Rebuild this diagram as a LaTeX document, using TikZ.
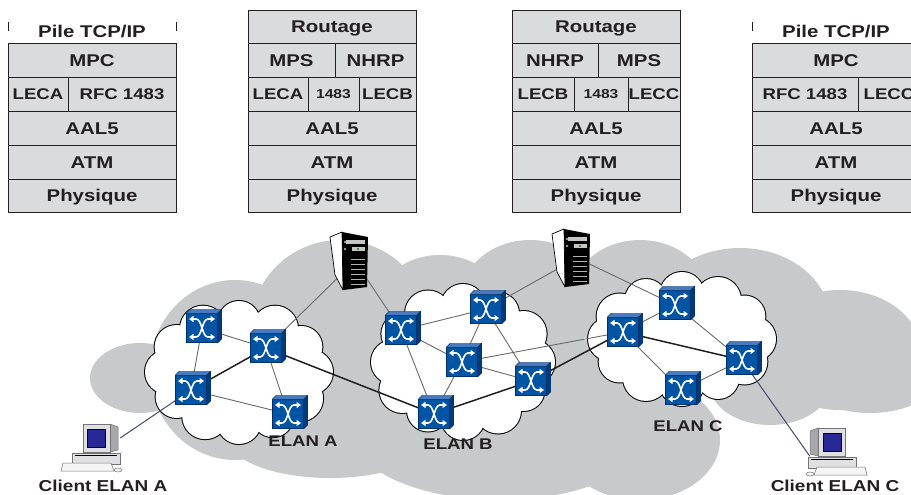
\documentclass[tikz,border=0pt]{standalone}
\usepackage{fontspec}
\setmainfont{Liberation Sans}[FakeStretch=1.2]
\usetikzlibrary{calc,arrows.meta}

\definecolor{stackgray}{RGB}{218,219,221}
\definecolor{cloudgray}{RGB}{200,201,203}
\definecolor{swblue}{RGB}{0,84,164}
\definecolor{swtop}{RGB}{72,122,192}
\definecolor{swside}{RGB}{0,58,122}
\definecolor{swedge}{RGB}{0,48,105}
\definecolor{linkgray}{RGB}{105,105,108}
\definecolor{inkc}{RGB}{35,31,32}
\definecolor{screenblue}{RGB}{40,40,150}
\definecolor{clientline}{RGB}{70,74,112}
\definecolor{pclight}{RGB}{224,224,226}
\definecolor{pcside}{RGB}{168,168,172}
\definecolor{pcedge}{RGB}{115,115,120}

\pgfdeclarelayer{clouds}
\pgfdeclarelayer{links}
\pgfsetlayers{clouds,links,main}

\tikzset{
  stkline/.style={draw=inkc, line width=0.8pt},
  stkcell/.style={stkline, fill=stackgray, rectangle, inner sep=0pt,
    font=\bfseries\fontsize{17}{17}\selectfont, text=inkc,
    text height=12.2pt, text depth=0pt},
  midtxt/.style={font=\bfseries\fontsize{15.5}{15.5}\selectfont, text height=11.2pt},
  numtxt/.style={font=\bfseries\fontsize{13}{13}\selectfont, text height=9.4pt},
  lab/.style={inner sep=0pt, font=\bfseries\fontsize{17}{17}\selectfont,
    text=inkc, text height=12.2pt, text depth=0pt},
  elanlab/.style={lab, font=\bfseries\fontsize{15.5}{15.5}\selectfont, text height=11.2pt},
  clientlab/.style={lab, font=\bfseries\fontsize{15.8}{15.8}\selectfont, text height=11.3pt},
  lk/.style={draw=linkgray, line width=0.9pt},
  lkb/.style={draw=inkc, line width=1.5pt},
  clientlk/.style={draw=clientline, line width=1pt},
  hidden/.style={rectangle, inner sep=0pt},
  atmsw/.style={rectangle, inner sep=0pt, minimum width=31pt, minimum height=29pt,
    fill=swblue, draw=swedge, line width=0.5pt,
    path picture={
      \begin{scope}[shift={(path picture bounding box.center)}, white,
          line width=1.6pt, >={Triangle[length=4.5pt,width=6pt]}]
        \draw[<->] (-13,-9) -- (-6,-9) .. controls (0,-9) and (0,9) .. (6,9) -- (13,9);
        \draw[<->] (13,-9) -- (6,-9) .. controls (0,-9) and (0,9) .. (-6,9) -- (-13,9);
      \end{scope}}},
  server/.pic={
    \filldraw[fill=white, draw=black, line width=0.7pt, line join=round]
      (-25,-24) -- (-13,-29) -- (-12,29) -- (-20,14) -- cycle;
    \fill[black] (-13,-29) -- (13,-24) -- (12,26) -- (-12,29) -- cycle;
    \fill[gray!45] (-9,-21) rectangle (10,-17);
    \fill[gray!45] (-3,-14) rectangle (10,-10);
    \fill[green!55!black] (3,-12) circle[radius=1.1pt];
    \draw[gray!60, line width=0.6pt] (-11,-20) -- (-9,-18) (-11,-18) -- (-9,-20);
    \draw[gray!60, line width=0.6pt] (-11,-13) -- (-9,-11) (-11,-11) -- (-9,-13);
    \foreach \yy in {-2,3,8,13,18,23}
      \draw[gray!60, line width=0.9pt] (-4,\yy) -- (10,\yy);
  },
  pc/.pic={
    % desktop case
    \filldraw[fill=pclight, draw=pcedge, line width=0.5pt] (-11,29) rectangle (37,40);
    \draw[black, line width=1.2pt] (-8,31.5) -- (34,31.5);
    % keyboard and mouse
    \filldraw[fill=white!92!gray, draw=pcedge, line width=0.5pt]
      (-20,39) -- (28,39) -- (31,47) -- (-22,47) -- cycle;
    \filldraw[fill=white!90!gray, draw=pcedge, line width=0.5pt] (35,46) ellipse[x radius=4pt, y radius=2pt];
    % monitor
    \filldraw[fill=pcside, draw=pcedge, line width=0.5pt] (27,0) -- (35,3) -- (35,26) -- (27,28) -- cycle;
    \filldraw[fill=pclight, draw=pcedge, line width=0.5pt] (0,0) rectangle (27,28);
    \filldraw[fill=screenblue, draw=black, line width=0.6pt] (4,5) rectangle (22,23);
  }
}

% one cell of a protocol stack: [options]{name}{x1}{y1}{x2}{y2}{text}
\newcommand\stackcell[7][]{%
  \node[stkcell, minimum width={(#5-#3)*1pt}, minimum height={(#6-#4)*1pt}, #1]
    (#2) at ({(#3+#5)/2},{(#4+#6)/2}) {#7};}

% scalloped LAN cloud: centre x, centre y, x radius, y radius, angle/bump list
\newcommand\elancloud[5]{%
  \foreach \ang/\rr in {#5}
    \draw[black, line width=2pt] ($(#1,#2)+(\ang:#3 and #4)$) circle[radius=\rr pt];
  \foreach \ang/\rr in {#5}
    \fill[white] ($(#1,#2)+(\ang:#3 and #4)$) circle[radius=\rr pt];
  \fill[white] (#1,#2) ellipse[x radius=#3 pt, y radius=#4 pt];}

\begin{document}
\begin{tikzpicture}[x=1pt, y=-1pt]
\useasboundingbox (0,0) rectangle (911,495);
\clip (0,0) rectangle (911,495);

% ---------- protocol stacks ----------
% client A
\draw[stkline] (8,22) -- (8,31) (176,22) -- (176,31);
\node[lab] (hd1) at (92,31.5) {Pile TCP/IP};
\stackcell{s1mpc}{8}{43}{176}{77}{MPC}
\stackcell[midtxt]{s1leca}{8}{77}{68}{111}{LECA}
\stackcell[midtxt]{s1rfc}{68}{77}{176}{111}{RFC 1483}
\stackcell{s1aal}{8}{111}{176}{145}{AAL5}
\stackcell{s1atm}{8}{145}{176}{179}{ATM}
\stackcell{s1phy}{8}{179}{176}{212}{Physique}

% router 1
\stackcell{s2rt}{248}{10}{416}{43}{Routage}
\stackcell{s2mps}{248}{43}{335}{77}{MPS}
\stackcell{s2nhrp}{335}{43}{416}{77}{NHRP}
\stackcell[midtxt]{s2leca}{248}{77}{308}{111}{LECA}
\stackcell[numtxt]{s2num}{308}{77}{359}{111}{1483}
\stackcell[midtxt]{s2lecb}{359}{77}{416}{111}{LECB}
\stackcell{s2aal}{248}{111}{416}{145}{AAL5}
\stackcell{s2atm}{248}{145}{416}{179}{ATM}
\stackcell{s2phy}{248}{179}{416}{212}{Physique}

% router 2
\stackcell{s3rt}{512}{10}{680}{43}{Routage}
\stackcell{s3nhrp}{512}{43}{598}{77}{NHRP}
\stackcell{s3mps}{598}{43}{680}{77}{MPS}
\stackcell[midtxt]{s3lecb}{512}{77}{574}{111}{LECB}
\stackcell[numtxt]{s3num}{574}{77}{628}{111}{1483}
\stackcell[midtxt]{s3lecc}{628}{77}{680}{111}{LECC}
\stackcell{s3aal}{512}{111}{680}{145}{AAL5}
\stackcell{s3atm}{512}{145}{680}{179}{ATM}
\stackcell{s3phy}{512}{179}{680}{212}{Physique}

% client C
\draw[stkline] (752,22) -- (752,31) (920,22) -- (920,31);
\node[lab] (hd4) at (836,31.5) {Pile TCP/IP};
\stackcell{s4mpc}{752}{43}{920}{77}{MPC}
\stackcell[midtxt]{s4rfc}{752}{77}{858}{111}{RFC 1483}
\stackcell[midtxt]{s4lecc}{858}{77}{920}{111}{LECC}
\stackcell{s4aal}{752}{111}{920}{145}{AAL5}
\stackcell{s4atm}{752}{145}{920}{179}{ATM}
\stackcell{s4phy}{752}{179}{920}{212}{Physique}

% ---------- ATM network background ----------
\begin{pgfonlayer}{clouds}
  \foreach \cx/\cy/\rx/\ry in {140/378/50/35, 235/370/85/90, 340/330/90/90,
      330/440/100/38, 500/430/150/70, 440/300/60/45, 530/300/70/60,
      640/300/70/60, 740/320/90/72, 840/350/80/60, 870/385/60/28,
      640/440/80/60, 770/385/60/40, 580/370/40/30}
    \fill[cloudgray] (\cx,\cy) ellipse[x radius=\rx pt, y radius=\ry pt];
  \elancloud{239}{372}{72}{50}{0/22, 32/23, 62/21, 90/22, 118/23, 150/21,
      180/22, 210/22, 240/23, 270/21, 300/23, 330/21}
  \elancloud{463}{362}{70}{56}{0/22, 30/21, 60/23, 90/22, 120/21, 150/23,
      180/22, 210/21, 240/23, 270/22, 300/21, 330/23}
  \elancloud{682}{339}{72}{45}{0/22, 30/23, 60/21, 90/22, 120/23, 150/21,
      180/22, 210/23, 240/21, 270/22, 300/23, 330/21}
\end{pgfonlayer}

% ---------- ATM switches ----------
\node[atmsw] (a1) at (202,328) {};
\node[atmsw] (a2) at (266,348) {};
\node[atmsw] (a3) at (191,390) {};
\node[atmsw] (a4) at (288,414) {};
\node[atmsw] (b1) at (401,330) {};
\node[atmsw] (b2) at (486,309) {};
\node[atmsw] (b3) at (462,362) {};
\node[atmsw] (b4) at (531,381) {};
\node[atmsw] (b5) at (434,414) {};
\node[atmsw] (c1) at (675,305) {};
\node[atmsw] (c2) at (623,332) {};
\node[atmsw] (c3) at (742,360) {};
\node[atmsw] (c4) at (681,390) {};
\foreach \s in {a1,a2,a3,a4,b1,b2,b3,b4,b5,c1,c2,c3,c4} {
  \filldraw[fill=swtop, draw=swedge, line width=0.4pt]
    (\s.north west) -- ++(4,-4) -- ($(\s.north east)+(4,-4)$) -- (\s.north east) -- cycle;
  \filldraw[fill=swside, draw=swedge, line width=0.4pt]
    (\s.north east) -- ++(4,-4) -- ($(\s.south east)+(4,-4)$) -- (\s.south east) -- cycle;
}

% ---------- route servers ----------
\pic at (355,261) {server};
\node[hidden, minimum width=26pt, minimum height=55pt] (srv1) at (355,261) {};
\pic at (577,258) {server};
\node[hidden, minimum width=26pt, minimum height=55pt] (srv2) at (577,258) {};

% ---------- client stations ----------
\pic at (83,424) {pc};
\node[hidden, minimum width=37pt, minimum height=28pt] (pca) at (101.5,438) {};
\pic[xscale=-1] at (845,428) {pc};
\node[hidden, minimum width=35pt, minimum height=28pt] (pcc) at (827.5,442) {};

% ---------- links ----------
\begin{pgfonlayer}{links}
  \foreach \u/\v in {a1/a2, a1/a3, a2/a4, a3/a4, b1/b2, b1/b3, b1/b5, b2/b3,
      b2/b4, b3/b5, b3/b4, b3/c2, c1/c2, c1/c3, c2/c4, c4/c3}
    \draw[lk] (\u.center) -- (\v.center);
  \foreach \u/\v in {a2/a3, a2/b5, b5/b4, b4/c2, c2/c3}
    \draw[lkb] (\u.center) -- (\v.center);
  \draw[lk] (srv1.center) -- (a2.center);
  \draw[lk] (srv1.center) -- (b1.center);
  \draw[lk] (srv2.center) -- (b2.center);
  \draw[lk] (srv2.center) -- (c1.center);
  \draw[clientlk] (a3.center) -- (pca.east);
  \draw[clientlk] (c3.center) -- (pcc.south west);
\end{pgfonlayer}

% ---------- labels ----------
\node[elanlab] (lba) at (303,441) {ELAN A};
\node[elanlab] (lbb) at (458,443.5) {ELAN B};
\node[elanlab] (lbc) at (688,425.5) {ELAN C};
\node[clientlab] (cla) at (103,485.5) {Client ELAN A};
\node[clientlab] (clc) at (835,485.5) {Client ELAN C};
\end{tikzpicture}
\end{document}
